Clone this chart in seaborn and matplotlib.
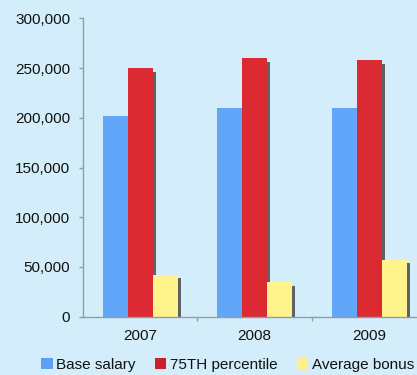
import matplotlib
matplotlib.use("Agg")
import matplotlib.pyplot as plt
import matplotlib.patheffects as pe
from matplotlib.patches import Patch
from matplotlib.ticker import FuncFormatter, FixedLocator
import seaborn as sns
import pandas as pd

years = ["2007", "2008", "2009"]
series_names = ["Base salary", "75TH percentile", "Average bonus"]
base_salary = [202000, 210000, 209500]
percentile_75 = [250000, 260000, 258000]
average_bonus = [42000, 34500, 57000]

bar_colors = ["#62A6FA", "#DC2A32", "#FFF38C"]
legend_colors = ["#5E9EF5", "#CC1F2A", "#FFF08A"]
bg = "#D3EEFA"
axis_col = "#8C9FA9"

rows = []
for name, vals in zip(series_names, [base_salary, percentile_75, average_bonus]):
    for y, v in zip(years, vals):
        rows.append({"Year": y, "Series": name, "Value": v})
df = pd.DataFrame(rows)

sns.set_style("white")
plt.rcParams["font.family"] = ["Liberation Sans", "DejaVu Sans"]

fig = plt.figure(figsize=(4.17, 3.75), dpi=100, facecolor=bg)
ax = fig.add_axes([82.7 / 417, 1 - 316.7 / 375, 344.0 / 417, (316.7 - 18.3) / 375])
ax.set_facecolor(bg)

sns.barplot(data=df, x="Year", y="Value", hue="Series", hue_order=series_names,
            palette=bar_colors, width=0.654, gap=0, ax=ax, legend=False,
            saturation=1, errorbar=None, linewidth=0)

for p in ax.patches:
    p.set_path_effects([pe.SimplePatchShadow(offset=(2.2, -2.5), shadow_rgbFace="#4a4a4a", alpha=0.85),
                        pe.Normal()])

ax.set_xlim(-0.5, 2.5)
ax.set_ylim(0, 300000)
ax.set_xlabel("")
ax.set_ylabel("")
ax.yaxis.set_major_formatter(FuncFormatter(lambda v, _: f"{v:,.0f}"))
ax.set_yticks(range(0, 300001, 50000))

for s in ["top", "right"]:
    ax.spines[s].set_visible(False)
for s in ["left", "bottom"]:
    ax.spines[s].set_color(axis_col)
    ax.spines[s].set_linewidth(1.0)

ax.tick_params(axis="y", which="major", left=True, length=3, width=1, color=axis_col,
               pad=6, labelsize=11, labelcolor="#111111")
ax.tick_params(axis="x", which="major", bottom=False, length=0, pad=9,
               labelsize=11, labelcolor="#111111")
ax.xaxis.set_minor_locator(FixedLocator([0.5, 1.5]))
ax.tick_params(axis="x", which="minor", bottom=True, length=3, width=1, color=axis_col)

handles = [Patch(facecolor=c, edgecolor="none") for c in legend_colors]
fig.legend(handles, series_names, loc="center left", bbox_to_anchor=(33 / 417, 10 / 375),
           ncol=3, frameon=False, borderpad=0, handlelength=0.78, handleheight=0.78,
           handletextpad=0.22, columnspacing=1.25, fontsize=11, labelcolor="#111111")

fig.savefig("out.png", dpi=100, facecolor=bg)
